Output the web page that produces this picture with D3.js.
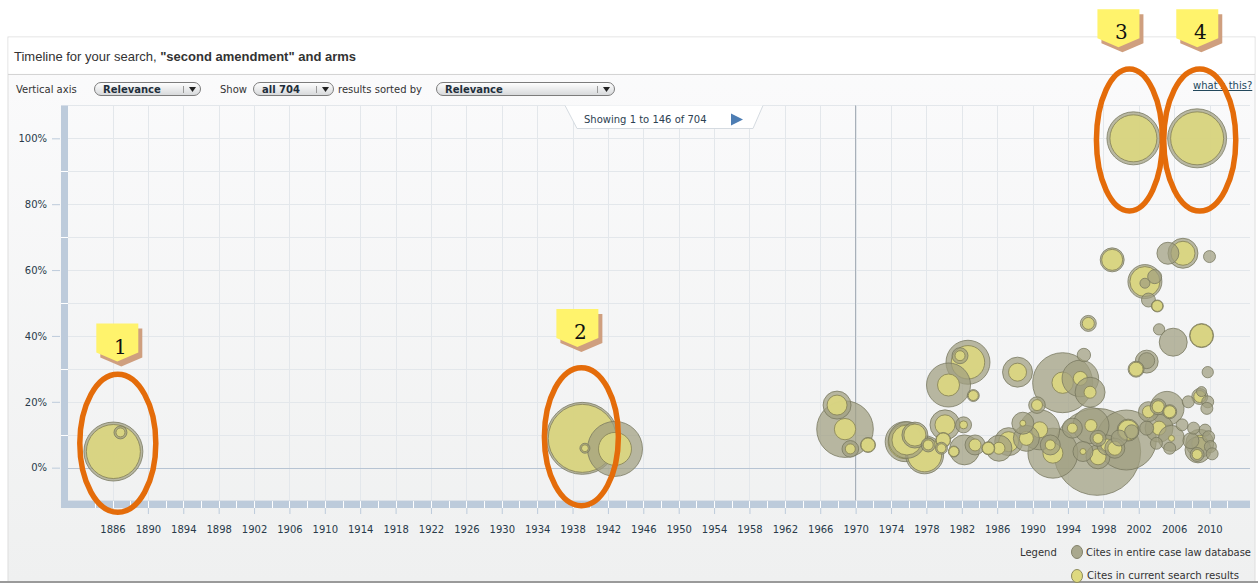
<!DOCTYPE html>
<html>
<head>
<meta charset="utf-8">
<script src="https://cdn.jsdelivr.net/npm/d3@7"></script>
<style>
  html, body { margin: 0; padding: 0; background: #fff; }
  svg { display: block; }
  text { font-family: "DejaVu Sans", Verdana, sans-serif; }
</style>
</head>
<body>
<svg id="chart" width="1260" height="585"></svg>
<script>
// ---- data: one entry per case (decision year, relevance %, citation counts) ----
const caseYears = [
  1886.1, 1886.9, 1939.1, 1939.4, 1942.8, 2001.4, 2008.6,
  1968.8, 1967.9, 1969.4, 1971.4,
  1975.8, 1976.7, 1975.6, 1977.8, 1978.2, 1979.7, 1979.9, 1980.1, 1982.2, 1981.1,
  1982.3, 1983.5, 1985.0, 1986.2, 1987.3, 1989.3, 1988.9,
  1982.7, 1981.8, 1980.5, 1983.3, 1988.3, 1990.5,
  1993.4, 1995.4, 1996.5, 1997.3, 1995.8, 1996.3,
  1990.8, 1992.0, 1992.3, 1994.5, 1996.6, 1997.4, 1998.4, 1999.3, 1997.4, 1995.7,
  2000.6, 2000.8, 1999.8, 2001.2,
  2003.1, 2004.2, 2005.2, 2005.5, 2004.3, 2002.9, 2005.7, 2005.5, 2004.0, 2006.9,
  2007.6, 2008.9, 2009.8, 2009.7, 2009.1, 2008.9, 2008.7, 2009.5, 2009.9, 2010.1, 2008.2,
  2009.8, 2009.1, 2005.9, 2004.3, 2002.9, 2002.9, 2001.7,
  1999.0, 2005.3, 2007.0, 2010.0, 2002.7, 2002.7, 2003.8, 2003.1, 2004.1,
  2007.9, 2010.3, 2008.6
];
const caseRelevance = [
  4.9, 10.7, 8.9, 5.9, 5.7, 100, 100,
  11.7, 19.0, 5.7, 6.9,
  8.4, 9.9, 7.9, 3.9, 6.9, 5.9, 8.4, 13.0, 13.0, 4.9,
  5.4, 6.9, 5.9, 5.9, 7.9, 8.9, 13.5,
  32.0, 34.0, 25.1, 21.9, 29.0, 19.0,
  25.8, 27.1, 22.9, 4.8, 34.2, 43.8,
  11.5, 6.9, 4.4, 12.0, 12.8, 8.9, 6.9, 5.9, 3.3, 4.9,
  8.4, 11.4, 9.0, 10.9,
  17.0, 18.5, 18.0, 17.0, 12.0, 12.0, 8.9, 5.9, 7.4, 13.0,
  20.0, 21.6, 20.0, 18.0, 23.1, 7.4, 5.4, 11.4, 9.4, 6.4, 12.0,
  29.0, 40.1, 38.1, 42.0, 32.2, 32.5, 29.9,
  63.1, 65.1, 65.1, 64.1, 56.5, 56.0, 58.0, 50.9, 49.1,
  8.2, 4.2, 4.0
];
// citations of each case in the whole case-law database
const caseTotalCites = [
  870, 42, 1296, 25, 756, 702, 870,
  801, 196, 69, 56,
  335, 169, 400, 361, 49, 36, 56, 225, 64, 30,
  225, 100, 42, 169, 196, 169, 121,
  484, 64, 484, 36, 225, 69,
  900, 335, 225, 1892, 45, 64,
  400, 100, 625, 100, 324, 64, 100, 100, 144, 100,
  900, 121, 64, 49,
  100, 64, 289, 49, 196, 49, 169, 36, 36, 36,
  36, 64, 36, 36, 25, 196, 169, 36, 36, 36, 36,
  32, 144, 196, 32, 132, 64, 64,
  144, 121, 225, 36, 289, 25, 49, 49, 36,
  64, 36, 49
];
// citations of each case inside the current search results
const caseSearchCites = [
  729, 20, 1156, 12, 272, 552, 702,
  114, 100, 25, 49,
  225, 121, 289, 289, 25, 20, 49, 100, 16, 25,
  0, 36, 36, 36, 100, 49, 9,
  279, 25, 121, 25, 81, 30,
  114, 49, 36, 0, 0, 36,
  64, 25, 100, 25, 36, 25, 36, 49, 64, 9,
  0, 100, 0, 0,
  36, 36, 0, 36, 49, 0, 9, 0, 0, 0,
  0, 36, 0, 0, 0, 64, 0, 0, 0, 0, 0,
  0, 132, 0, 0, 0, 0, 49,
  110, 0, 144, 0, 225, 0, 0, 0, 30,
  0, 0, 25
];

const xTickYears = [1886, 1890, 1894, 1898, 1902, 1906, 1910, 1914, 1918, 1922, 1926, 1930,
  1934, 1938, 1942, 1946, 1950, 1954, 1958, 1962, 1966, 1970, 1974, 1978, 1982, 1986,
  1990, 1994, 1998, 2002, 2006, 2010];
const yTickValues = [0, 20, 40, 60, 80, 100];
const yGridValues = [-10, 0, 10, 20, 30, 40, 50, 60, 70, 80, 90, 100, 110];

// numbered call-outs circling notable cases
const noteLabels = ["1", "2", "3", "4"];
const noteYears = [1886.6, 1939.0, 2000.95, 2008.9];
const noteValues = [7.4, 9.4, 99.5, 99.5];

// ---- drawing ----
const W = 1260, H = 585;
const svg = d3.select("#chart");
const defs = svg.append("defs");

const panelGrad = defs.append("linearGradient").attr("id", "panelBg")
  .attr("x1", 0).attr("y1", 0).attr("x2", 0).attr("y2", 1);
panelGrad.append("stop").attr("offset", "0%").attr("stop-color", "#fbfbfc");
panelGrad.append("stop").attr("offset", "100%").attr("stop-color", "#eff0f0");

const pillGrad = defs.append("linearGradient").attr("id", "pillBg")
  .attr("x1", 0).attr("y1", 0).attr("x2", 0).attr("y2", 1);
pillGrad.append("stop").attr("offset", "0%").attr("stop-color", "#ffffff");
pillGrad.append("stop").attr("offset", "100%").attr("stop-color", "#d6d8da");

svg.append("rect").attr("width", W).attr("height", H).attr("fill", "#fff");

// panel frame
svg.append("rect").attr("x", 8).attr("y", 37).attr("width", 1247).attr("height", 545)
  .attr("fill", "url(#panelBg)").attr("stroke", "#dedede");
svg.append("rect").attr("x", 8.5).attr("y", 37.5).attr("width", 1246).attr("height", 36)
  .attr("fill", "#fff");
svg.append("line").attr("x1", 8).attr("x2", 1255).attr("y1", 74.5).attr("y2", 74.5)
  .attr("stroke", "#d4d4d4");
svg.append("line").attr("x1", 0).attr("x2", 1258).attr("y1", 582).attr("y2", 582)
  .attr("stroke", "#9a9a9a").attr("stroke-width", 2);

// title
const title = svg.append("text").attr("x", 14).attr("y", 61)
  .style("font-family", "'Liberation Sans', Arial, sans-serif")
  .style("font-size", "13px").attr("fill", "#333");
title.append("tspan").text("Timeline for your search, ");
title.append("tspan").attr("font-weight", "bold").text("\"second amendment\" and arms");

// control row
const ctrl = svg.append("g").style("font-size", "10px").attr("fill", "#333");
ctrl.append("text").attr("x", 16).attr("y", 93).text("Vertical axis");
ctrl.append("text").attr("x", 220).attr("y", 93).text("Show");
ctrl.append("text").attr("x", 338).attr("y", 93).text("results sorted by");

function pill(x0, w, label) {
  const g = svg.append("g");
  g.append("rect").attr("x", x0 + 0.5).attr("y", 82.5).attr("width", w).attr("height", 13)
    .attr("rx", 6.5).attr("fill", "url(#pillBg)").attr("stroke", "#7c7c7c");
  g.append("text").attr("x", x0 + 9).attr("y", 93).style("font-size", "10px")
    .attr("font-weight", "bold").attr("fill", "#1f2f3c").text(label);
  g.append("line").attr("x1", x0 + w - 16.5).attr("x2", x0 + w - 16.5)
    .attr("y1", 86).attr("y2", 93).attr("stroke", "#999");
  g.append("path").attr("d", `M${x0 + w - 11},87 l7,0 l-3.5,5 z`).attr("fill", "#222");
}
pill(94, 106, "Relevance");
pill(253, 80, "all 704");
pill(436, 178, "Relevance");

// "what's this?" help link
svg.append("text").attr("x", 1193).attr("y", 89).style("font-size", "10px")
  .attr("fill", "#23485c").attr("text-decoration", "underline").text("what's this?");

// scales
const x = d3.scaleLinear().domain([1886, 2010]).range([112.5, 1209.5]);
const y = d3.scaleLinear().domain([-10, 110]).range([500.6, 105.4]);
const r = d3.scaleSqrt().domain([0, 2000]).range([0, Math.sqrt(2000)]);
const plotL = 68, plotR = 1250, plotT = y(110), plotB = y(-10);

// grid
const grid = svg.append("g");
grid.selectAll(".vg").data(xTickYears).join("line")
  .attr("x1", d => Math.round(x(d)) + 0.5).attr("x2", d => Math.round(x(d)) + 0.5)
  .attr("y1", plotT).attr("y2", plotB).attr("stroke", "#e3e7eb");
grid.selectAll(".hg").data(yGridValues).join("line")
  .attr("x1", plotL).attr("x2", plotR)
  .attr("y1", d => Math.round(y(d)) + 0.5).attr("y2", d => Math.round(y(d)) + 0.5)
  .attr("stroke", d => d === 0 ? "#b7c4d3" : "#e3e7eb");
// present-day divider at 1970
grid.append("line").attr("x1", Math.round(x(1970)) - 0.5).attr("x2", Math.round(x(1970)) - 0.5)
  .attr("y1", plotT).attr("y2", plotB).attr("stroke", "#a8b0b9");

// "Showing" tab
svg.append("path").attr("d", "M565,105.5 L577,128.5 L753,128.5 L763,105.5")
  .attr("fill", "#fff").attr("stroke", "#d5dbe1");
svg.append("text").attr("x", 584).attr("y", 123).style("font-size", "10px")
  .attr("fill", "#2c4152").text("Showing 1 to 146 of 704");
svg.append("path").attr("d", "M731,113.5 L743,119.5 L731,125.5 Z").attr("fill", "#4d7db3");

// axis bands
const bandColor = "#bdcbdb";
svg.append("rect").attr("x", 61).attr("y", plotT).attr("width", 7).attr("height", 508 - plotT)
  .attr("fill", bandColor);
svg.append("rect").attr("x", 61).attr("y", plotB).attr("width", plotR - 61).attr("height", 508 - plotB)
  .attr("fill", bandColor);
svg.selectAll(".bs").data(d3.range(-9, 110, 20)).join("line")
  .attr("x1", 61).attr("x2", 68).attr("y1", d => Math.round(y(d + 0.0) - 33) + 0.5)
  .attr("y2", d => Math.round(y(d) - 33) + 0.5);
svg.selectAll(".lsep").data([90, 70, 50, 30, 10]).join("line")
  .attr("x1", 61).attr("x2", 68)
  .attr("y1", d => Math.round(y(d)) + 0.5).attr("y2", d => Math.round(y(d)) + 0.5)
  .attr("stroke", "#fff");
svg.selectAll(".bsep").data(d3.range(1884, 2014, 2)).join("line")
  .attr("x1", d => Math.round(x(d)) + 0.5).attr("x2", d => Math.round(x(d)) + 0.5)
  .attr("y1", plotB + 0.5).attr("y2", 508).attr("stroke", "#fff");

// axes
const xAxis = d3.axisBottom(x).tickValues(xTickYears).tickFormat(d3.format("d"))
  .tickSize(6).tickPadding(12);
const gx = svg.append("g").attr("transform", "translate(0,508)").call(xAxis);
gx.select(".domain").remove();
gx.selectAll(".tick line").attr("stroke", bandColor);
gx.selectAll("text").style("font-size", "10px").style("font-family", "'DejaVu Sans', Verdana, sans-serif")
  .attr("fill", "#283a4a");

const yAxis = d3.axisLeft(y).tickValues(yTickValues).tickFormat(d => d + "%")
  .tickSize(8).tickPadding(5);
const gy = svg.append("g").attr("transform", "translate(60,0)").call(yAxis);
gy.select(".domain").remove();
gy.selectAll(".tick line").attr("stroke", bandColor);
gy.selectAll("text").style("font-size", "10px").style("font-family", "'DejaVu Sans', Verdana, sans-serif")
  .attr("fill", "#283a4a");

// bubbles: grey = database cites, yellow = search-result cites
const cases = caseYears.map((yr, i) => ({
  year: yr, rel: caseRelevance[i], total: caseTotalCites[i], hits: caseSearchCites[i]
})).sort((a, b) => b.total - a.total);

const bub = svg.append("g");
const cg = bub.selectAll("g.case").data(cases).join("g").attr("class", "case")
  .attr("transform", d => `translate(${x(d.year)},${y(d.rel)})`);
cg.append("circle").attr("r", d => r(d.total))
  .attr("fill", "rgba(160,158,128,0.72)").attr("stroke", "rgba(118,117,94,0.75)")
  .attr("stroke-width", 1);
cg.filter(d => d.hits > 0).append("circle").attr("r", d => r(d.hits))
  .attr("fill", "rgba(218,214,130,0.95)").attr("stroke", "rgba(135,132,88,0.85)")
  .attr("stroke-width", 1);

// legend
const lg = svg.append("g").style("font-size", "10px").attr("fill", "#333");
lg.append("text").attr("x", 1020).attr("y", 556).text("Legend");
lg.append("ellipse").attr("cx", 1077).attr("cy", 552).attr("rx", 5.5).attr("ry", 6.5)
  .attr("fill", "#a9a88e").attr("stroke", "#83826b");
lg.append("text").attr("x", 1086).attr("y", 556).attr("textLength", 165)
  .attr("lengthAdjust", "spacingAndGlyphs").text("Cites in entire case law database");
lg.append("ellipse").attr("cx", 1077).attr("cy", 576).attr("rx", 5.5).attr("ry", 6.5)
  .attr("fill", "#ded97f").attr("stroke", "#8e8b5c");
lg.append("text").attr("x", 1087).attr("y", 579).attr("textLength", 152)
  .attr("lengthAdjust", "spacingAndGlyphs").text("Cites in current search results");

// call-outs: orange ring + numbered yellow tag
const ringRx = [38, 37, 33, 36], ringRy = [69, 69, 71, 71];
const tagDx = [-0.5, -4, -11, -2.5], tagGap = [48, 56, 57, 57];
const notes = svg.append("g");
noteLabels.forEach((lab, i) => {
  const cx = x(noteYears[i]), cy = y(noteValues[i]);
  notes.append("ellipse").attr("cx", cx).attr("cy", cy).attr("rx", ringRx[i]).attr("ry", ringRy[i])
    .attr("fill", "none").attr("stroke", "#e46c0a").attr("stroke-width", 5.5);
  const tx = cx + tagDx[i], top = cy - ringRy[i] - 2.75 - tagGap[i];
  const tag = (ox, oy) => `M${tx - 21 + ox},${top + oy} L${tx + 21 + ox},${top + oy} L${tx + 21 + ox},${top + 29 + oy} L${tx + ox},${top + 38 + oy} L${tx - 21 + ox},${top + 29 + oy} Z`;
  notes.append("path").attr("d", tag(4, 5)).attr("fill", "#cf9f7f");
  notes.append("path").attr("d", tag(0, 0)).attr("fill", "#fff36c");
  notes.append("text").attr("x", tx + 3).attr("y", top + 30).attr("text-anchor", "middle")
    .style("font-family", "'DejaVu Serif', 'Liberation Serif', serif").style("font-size", "20px")
    .attr("fill", "#111").text(lab);
});
</script>
</body>
</html>
